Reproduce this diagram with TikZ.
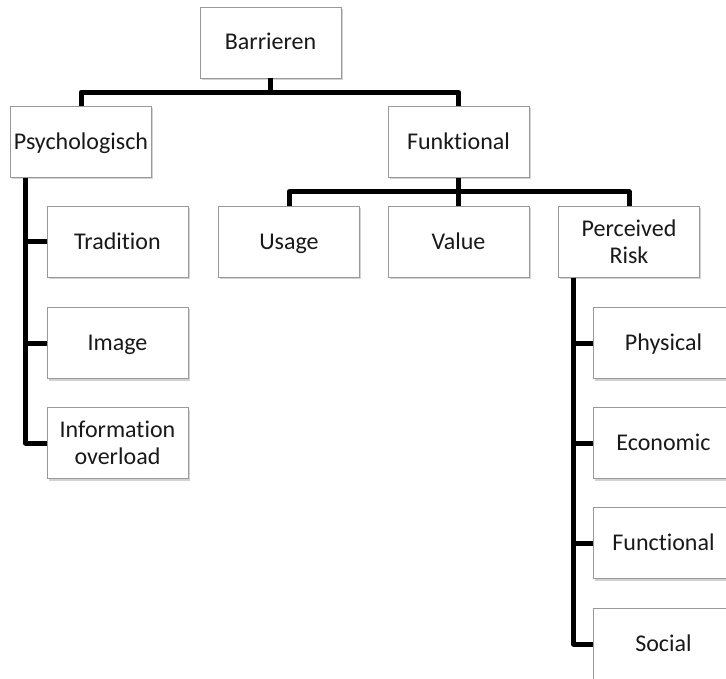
\documentclass[tikz,border=0pt]{standalone}
\usepackage{fontspec}
\setmainfont[RawFeature=-liga]{Carlito}
\usetikzlibrary{calc,shadows}
\begin{document}
\begin{tikzpicture}[x=1pt, y=-1pt,
    box/.style={draw=black!40, fill=white, minimum width=141pt, minimum height=71pt,
      inner sep=2pt, align=center, text=black!90,
      font=\fontsize{24}{27}\selectfont,
      drop shadow={shadow xshift=1.5pt, shadow yshift=-2pt, opacity=0.35, fill=black!50}},
    one/.style={box, text height=17.5pt, text depth=2.5pt},
    conn/.style={line width=5pt, line join=round}]
  \path [use as bounding box, clip] (0, 0) rectangle (726, 679);
  % boxes
  \node [one] (barrieren) at (270.5, 42.5) {Barrieren};
  \node [one] (psych) at (81, 142) {Psychologisch};
  \node [one] (funk) at (458.5, 142) {Funktional};
  \node [one] (tradition) at (117.5, 242) {Tradition};
  \node [one] (image) at (117.5, 343) {Image};
  \node [box] (infoov) at (117.5, 443) {Information\\overload};
  \node [one] (usage) at (289, 242) {Usage};
  \node [one] (value) at (458.5, 242) {Value};
  \node [box] (risk) at (629, 242) {Perceived\\Risk};
  \node [one] (physical) at (663.5, 343) {Physical};
  \node [one] (economic) at (663.5, 443) {Economic};
  \node [one] (functional) at (663.5, 543) {Functional};
  \node [one] (social) at (663.5, 644) {Social};
  % busses
  \coordinate (topbus) at ($(barrieren.south)!0.5!(barrieren.south |- psych.north)$);
  \coordinate (midbus) at ($(funk.south)!0.5!(value.north)$);
  \coordinate (lbus) at ([xshift=15pt]psych.south west);
  \coordinate (rbus) at ([xshift=15pt]risk.south west);
  \draw [conn] (barrieren.south) -- (topbus);
  \draw [conn] (psych.north) |- (topbus) -| (funk.north);
  \draw [conn] (funk.south) -- (value.north);
  \draw [conn] (usage.north) |- (midbus) -| (risk.north);
  \draw [conn] (lbus) |- (infoov.west);
  \foreach \n in {tradition, image}
    \draw [conn] (lbus |- \n.west) -- (\n.west);
  \draw [conn] (rbus) |- (social.west);
  \foreach \n in {physical, economic, functional}
    \draw [conn] (rbus |- \n.west) -- (\n.west);
\end{tikzpicture}
\end{document}
